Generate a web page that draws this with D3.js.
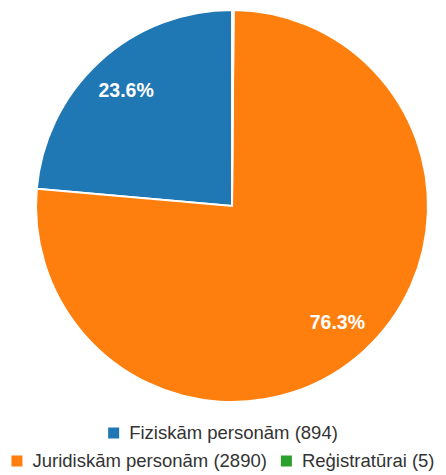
<!DOCTYPE html>
<html>
<head>
<meta charset="utf-8">
<script src="https://cdn.jsdelivr.net/npm/d3@7"></script>
<style>
  body { margin: 0; background: #fff; }
  svg { display: block; font-family: "Liberation Sans", Arial, Helvetica, sans-serif; }
</style>
</head>
<body>
<div id="chart"></div>
<script>
// data
var labels = ["Fiziskām personām", "Juridiskām personām", "Reģistratūrai"];
var values = [894, 2890, 5];
var colors = ["#1f77b4", "#ff7f0e", "#2ca02c"];
var legendRows = [[0], [1, 2]];

var width = 446, height = 475;
var cx = 232, cy = 206, radius = 196;

var svg = d3.select("#chart")
	.append("svg")
	.attr("width", width)
	.attr("height", height);

var total = d3.sum(values);

var pie = d3.pie()
	.sort(null)
	.startAngle(0)
	.endAngle(-2 * Math.PI)
	.value(function (d) { return d; });

var arc = d3.arc()
	.innerRadius(0)
	.outerRadius(radius);

var labelArc = d3.arc()
	.innerRadius(radius * 0.8)
	.outerRadius(radius * 0.8);

var g = svg.append("g")
	.attr("transform", "translate(" + cx + "," + cy + ")");

var arcs = pie(values);

g.selectAll("path")
	.data(arcs)
	.enter()
	.append("path")
	.attr("d", arc)
	.attr("fill", function (d, i) { return colors[i]; })
	.attr("stroke", "#fff")
	.attr("stroke-width", 2);

// percentage labels, only for big enough slices
g.selectAll("text.pct")
	.data(arcs.filter(function (d) { return d.value / total > 0.05; }))
	.enter()
	.append("text")
	.attr("class", "pct")
	.attr("transform", function (d) {
		var c = labelArc.centroid(d);
		return "translate(" + c[0] + "," + c[1] + ")";
	})
	.attr("text-anchor", "middle")
	.attr("dy", "0.36em")
	.attr("fill", "#fff")
	.attr("font-weight", "bold")
	.attr("font-size", 19.5)
	.text(function (d) { return (d.value / total * 100).toFixed(1) + "%"; });

// legend
var boxSize = 11, boxGap = 10, itemGap = 14, fontSize = 18.5;
var rowY = [433, 461];

legendRows.forEach(function (row, r) {
	var rowG = svg.append("g");
	var x = 0;
	row.forEach(function (idx) {
		var item = rowG.append("g").attr("transform", "translate(" + x + ",0)");
		item.append("rect")
			.attr("x", 0)
			.attr("y", rowY[r] - boxSize / 2)
			.attr("width", boxSize)
			.attr("height", boxSize)
			.attr("fill", colors[idx]);
		var t = item.append("text")
			.attr("x", boxSize + boxGap)
			.attr("y", rowY[r])
			.attr("dy", "0.35em")
			.attr("font-size", fontSize)
			.attr("fill", "#333")
			.text(labels[idx] + " (" + values[idx] + ")");
		x += boxSize + boxGap + t.node().getComputedTextLength() + itemGap;
	});
	var rowWidth = x - itemGap;
	rowG.attr("transform", "translate(" + ((width - rowWidth) / 2) + ",0)");
});
</script>
</body>
</html>
